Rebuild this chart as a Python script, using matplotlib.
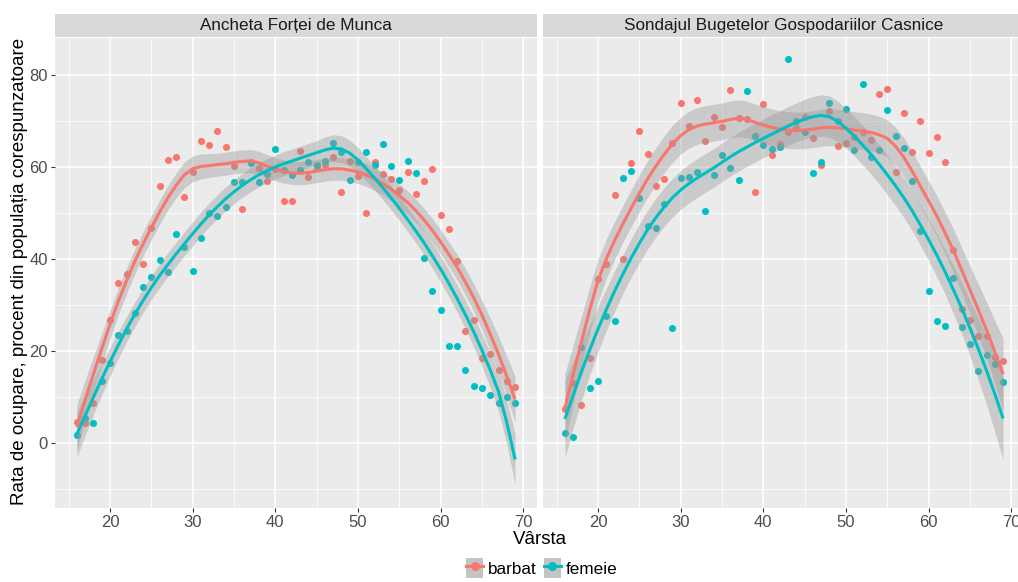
import numpy as np
import matplotlib.pyplot as plt
from matplotlib.patches import Patch
from matplotlib.lines import Line2D
from matplotlib.legend_handler import HandlerTuple

plt.rcParams['font.family'] = ['Liberation Sans', 'DejaVu Sans']

# ---- data ----
ages = list(range(16, 70))

panel_titles = ['Ancheta Forței de Munca', 'Sondajul Bugetelor Gospodariilor Casnice']
groups = ['barbat', 'femeie']

# observed employment rates, ages 16..69
afm_barbat = [4.7, 4.5, 8.7, 18.0, 26.8, 34.8, 36.8, 43.8, 39.0, 46.7,
              55.8, 61.5, 62.2, 53.4, 58.8, 65.6, 64.8, 67.7, 64.3, 60.3,
              50.9, 61.0, 59.8, 57.0, 59.5, 52.5, 52.5, 63.4, 57.8, 59.8,
              60.5, 62.1, 54.5, 61.4, 58.1, 50.0, 61.0, 58.5, 57.4, 55.1,
              58.8, 54.1, 57.0, 59.6, 49.5, 46.5, 39.6, 24.4, 26.8, 18.5,
              19.3, 15.9, 13.5, 12.3]
afm_femeie = [1.8, 5.5, 4.5, 13.5, 17.5, 23.6, 24.3, 28.3, 33.9, 36.0,
              39.9, 37.1, 45.4, 42.6, 37.5, 44.5, 50.1, 49.4, 51.3, 56.7,
              56.8, 60.8, 56.8, 58.5, 63.9, 59.3, 58.2, 59.4, 61.1, 60.5,
              61.2, 65.1, 63.2, 57.2, 61.1, 63.3, 60.5, 65.0, 60.3, 57.2,
              61.2, 58.6, 40.2, 33.0, 29.0, 21.2, 21.2, 15.9, 12.5, 12.1,
              10.4, 8.7, 10.1, 8.7]
sbgc_barbat = [7.5, 13.0, 8.3, 18.5, 35.7, 39.0, 54.0, 40.0, 60.9, 67.9,
               62.9, 55.9, 57.3, 65.2, 73.8, 68.8, 74.5, 65.7, 70.8, 68.7,
               76.7, 70.7, 70.4, 54.5, 73.7, 62.5, 64.9, 67.5, 68.5, 70.9,
               66.3, 60.4, 72.1, 64.6, 65.2, 66.5, 67.5, 65.9, 75.9, 77.0,
               59.0, 71.8, 63.2, 69.9, 63.1, 66.5, 61.1, 41.9, 29.1, 26.8,
               23.3, 23.3, 18.8, 17.9]
sbgc_femeie = [2.2, 1.4, 20.8, 12.0, 13.6, 27.6, 26.6, 57.6, 59.1, 53.2,
               47.2, 46.7, 52.0, 25.1, 57.6, 57.8, 58.8, 50.4, 58.3, 62.7,
               59.8, 57.2, 76.6, 66.7, 64.7, 64.0, 64.4, 83.5, 70.0, 67.5,
               58.7, 61.1, 73.8, 70.0, 72.5, 63.6, 78.0, 62.1, 63.6, 72.3,
               66.7, 64.1, 57.0, 46.2, 33.1, 26.6, 25.5, 35.9, 25.3, 21.6,
               15.7, 19.2, 17.2, 13.2]

# smoothed curves (loess), ages 16..69
afm_barbat_fit = [3.5, 9.5, 15.0, 20.5, 25.8, 30.8, 35.3, 39.5, 43.3, 46.8,
                  50.2, 53.3, 56.0, 58.3, 59.6, 60.1, 60.3, 60.5, 60.7, 61.0,
                  61.2, 61.3, 60.9, 60.2, 59.5, 59.0, 58.7, 58.6, 58.8, 59.1,
                  59.4, 59.6, 59.6, 59.3, 58.9, 58.3, 57.4, 56.4, 55.2, 53.8,
                  52.3, 50.5, 48.5, 46.2, 43.7, 41.0, 38.2, 35.0, 31.6, 27.8,
                  23.7, 19.3, 14.5, 9.5]
afm_femeie_fit = [2.0, 6.0, 10.0, 14.0, 17.7, 21.3, 24.8, 28.0, 31.0, 33.8,
                  36.4, 38.8, 41.1, 43.3, 45.5, 47.6, 49.6, 51.4, 53.1, 54.6,
                  56.0, 57.2, 58.3, 59.2, 60.0, 60.7, 61.3, 61.9, 62.5, 63.1,
                  63.7, 64.1, 63.9, 63.0, 61.5, 59.6, 57.6, 55.5, 53.3, 51.0,
                  48.6, 46.1, 43.5, 40.7, 37.8, 34.7, 31.4, 27.9, 24.2, 20.2,
                  15.9, 11.2, 4.5, -3.5]
sbgc_barbat_fit = [7.6, 15.0, 22.0, 29.0, 35.3, 40.0, 44.0, 47.6, 51.0, 54.3,
                   57.4, 60.2, 62.7, 65.0, 66.8, 68.1, 68.9, 69.3, 69.6, 69.9,
                   70.3, 70.6, 70.3, 69.7, 69.1, 68.6, 68.2, 68.0, 67.9, 68.0,
                   68.2, 68.5, 68.6, 68.5, 68.3, 68.0, 67.8, 67.5, 67.0, 66.2,
                   64.5, 62.1, 59.1, 55.8, 52.6, 49.3, 45.6, 41.8, 37.6, 33.3,
                   29.0, 24.6, 19.8, 15.0]
sbgc_femeie_fit = [5.3, 10.5, 15.5, 20.3, 24.8, 29.0, 33.0, 36.7, 40.2, 43.4,
                   46.4, 49.0, 51.3, 53.3, 55.0, 56.4, 57.6, 58.7, 59.8, 61.0,
                   62.2, 63.3, 64.3, 65.3, 66.2, 67.1, 68.0, 68.9, 69.7, 70.4,
                   70.9, 71.2, 70.9, 69.9, 68.4, 66.7, 64.8, 62.8, 60.6, 58.3,
                   55.9, 53.3, 50.5, 47.4, 44.2, 40.8, 37.2, 33.3, 29.3, 25.0,
                   20.5, 15.8, 10.7, 5.4]

# half width of the grey confidence band around each curve
afm_barbat_ci = [5.0, 4.3, 3.8, 3.4, 3.1, 2.9, 2.8, 2.7, 2.6, 2.6,
                 2.6, 2.6, 2.7, 2.8, 2.8, 2.7, 2.6, 2.5, 2.5, 2.5,
                 2.5, 2.5, 2.5, 2.5, 2.5, 2.5, 2.5, 2.5, 2.5, 2.5,
                 2.5, 2.5, 2.5, 2.5, 2.5, 2.5, 2.5, 2.5, 2.5, 2.5,
                 2.5, 2.5, 2.5, 2.6, 2.6, 2.7, 2.8, 2.9, 3.0, 3.2,
                 3.5, 3.9, 4.4, 5.0]
afm_femeie_ci = [5.0, 4.3, 3.8, 3.4, 3.1, 2.9, 2.8, 2.7, 2.6, 2.6,
                 2.6, 2.6, 2.6, 2.6, 2.6, 2.6, 2.6, 2.6, 2.6, 2.6,
                 2.6, 2.6, 2.6, 2.6, 2.6, 2.6, 2.6, 2.6, 2.6, 2.6,
                 2.8, 2.9, 2.9, 2.8, 2.7, 2.6, 2.6, 2.6, 2.6, 2.6,
                 2.6, 2.6, 2.6, 2.7, 2.8, 2.9, 3.0, 3.1, 3.3, 3.5,
                 3.8, 4.2, 4.8, 5.5]
sbgc_barbat_ci = [7.5, 6.4, 5.6, 5.0, 4.6, 4.3, 4.1, 4.0, 4.0, 4.0,
                  4.0, 4.0, 4.0, 4.0, 4.0, 4.0, 4.0, 4.0, 4.0, 4.0,
                  4.0, 4.0, 4.0, 4.0, 4.0, 4.0, 4.0, 4.0, 4.0, 4.0,
                  4.0, 4.0, 4.0, 4.0, 4.0, 4.0, 4.0, 4.0, 4.0, 4.0,
                  4.1, 4.2, 4.3, 4.3, 4.3, 4.4, 4.5, 4.7, 4.9, 5.2,
                  5.6, 6.1, 6.8, 7.8]
sbgc_femeie_ci = [8.5, 7.2, 6.2, 5.5, 5.0, 4.6, 4.4, 4.2, 4.2, 4.2,
                  4.2, 4.2, 4.2, 4.2, 4.2, 4.2, 4.2, 4.2, 4.2, 4.2,
                  4.2, 4.2, 4.2, 4.2, 4.2, 4.2, 4.2, 4.2, 4.2, 4.3,
                  4.4, 4.5, 4.5, 4.4, 4.3, 4.3, 4.3, 4.3, 4.3, 4.3,
                  4.3, 4.3, 4.3, 4.4, 4.5, 4.7, 4.9, 5.2, 5.6, 6.1,
                  6.7, 7.4, 8.2, 9.0]

points = [[afm_barbat, afm_femeie], [sbgc_barbat, sbgc_femeie]]
fits = [[afm_barbat_fit, afm_femeie_fit], [sbgc_barbat_fit, sbgc_femeie_fit]]
bands = [[afm_barbat_ci, afm_femeie_ci], [sbgc_barbat_ci, sbgc_femeie_ci]]

colors = ['#F8766D', '#00BFC4']

# ---- layout (pixels of a 1018x582 canvas) ----
W, H = 1018, 582
fig = plt.figure(figsize=(W / 100, H / 100), dpi=100)


def px_axes(x0, y0, x1, y1):
    return fig.add_axes([x0 / W, 1 - y1 / H, (x1 - x0) / W, (y1 - y0) / H])


# the right panel runs past the canvas edge, as in the original crop
panel_x = [(55, 537), (543, 1025)]
x = np.array(ages)

for p, (x0, x1) in enumerate(panel_x):
    ax = px_axes(x0, 38, x1, 508)
    ax.set_facecolor('#EBEBEB')
    for s in ax.spines.values():
        s.set_visible(False)
    ax.set_xlim(13.35, 71.65)
    ax.set_ylim(-14.05, 88.0)
    ax.set_xticks([20, 30, 40, 50, 60, 70])
    ax.set_xticks([15, 25, 35, 45, 55, 65], minor=True)
    ax.set_yticks([0, 20, 40, 60, 80])
    ax.set_yticks([-10, 10, 30, 50, 70], minor=True)
    ax.grid(which='major', color='white', lw=1.1)
    ax.grid(which='minor', color='white', lw=0.55)
    ax.set_axisbelow(True)
    ax.tick_params(which='major', length=3, width=0.8, color='#333333',
                   labelsize=12, labelcolor='#4D4D4D', pad=2)
    ax.tick_params(which='minor', length=0)
    if p == 1:
        ax.tick_params(axis='y', which='both', left=False, labelleft=False)

    for g in range(2):
        ax.scatter(x, points[p][g], s=26, color=colors[g], lw=0, zorder=2)
    for g in range(2):
        fit = np.array(fits[p][g])
        ci = np.array(bands[p][g])
        ax.fill_between(x, fit - ci, fit + ci, color='#999999', alpha=0.4,
                        lw=0, zorder=3)
    for g in range(2):
        ax.plot(x, fits[p][g], color=colors[g], lw=2.2, zorder=4,
                solid_capstyle='butt')

    # facet strip
    st = px_axes(x0, 14, x1, 37)
    st.set_facecolor('#D9D9D9')
    st.set_xticks([])
    st.set_yticks([])
    for s in st.spines.values():
        s.set_visible(False)
    st.text(0.5 if p == 0 else (784 - x0) / (x1 - x0), 0.5, panel_titles[p],
            ha='center', va='center', fontsize=12.3, color='#1A1A1A',
            transform=st.transAxes)

fig.text(20 / W, 1 - 271 / H, 'Rata de ocupare, procent din populația corespunzatoare',
         rotation=90, ha='center', va='center', fontsize=13.5, color='black')
fig.text(540 / W, 1 - 539 / H, 'Vârsta', ha='center', va='center',
         fontsize=13.5, color='black')

handles = []
for g in range(2):
    handles.append((Patch(facecolor='#C4C4C4', edgecolor='none'),
                    Line2D([], [], color=colors[g], lw=2.2, marker='o',
                           markersize=5.5)))
fig.legend(handles, groups, loc='center', bbox_to_anchor=(542 / W, 1 - 568 / H),
           ncol=2, frameon=False, fontsize=12.3, handlelength=1.0,
           handleheight=1.5, handletextpad=0.3, columnspacing=0.4,
           handler_map={tuple: HandlerTuple(ndivide=1, pad=0)})

fig.savefig('out.png', dpi=100)
